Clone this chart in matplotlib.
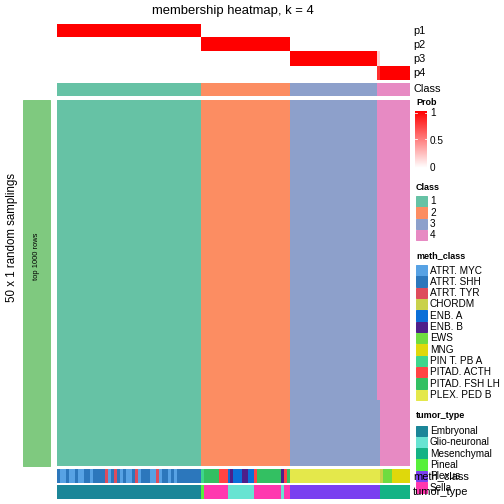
import numpy as np
import matplotlib
matplotlib.use('Agg')
import matplotlib.pyplot as plt
from matplotlib.colors import LinearSegmentedColormap, to_rgb
from matplotlib.patches import Rectangle

plt.rcParams['font.family'] = ['Liberation Sans', 'DejaVu Sans']

# ---- data ----
class_runs = [(1, 48), (2, 30), (3, 29), (4, 11)]
prob_runs = [([1, 0, 0, 0], 48), ([0, 1, 0, 0], 30), ([0, 0, 1, 0], 29),
             ([0, 0, 0.18, 0.82], 1), ([0, 0, 0, 1], 10)]
# class assignment over the 50 samplings, per column group
sampling_runs = [([(1, 50)], 48), ([(2, 50)], 30), ([(3, 50)], 29),
                 ([(4, 41), (3, 9)], 1), ([(4, 50)], 10)]
meth_runs = [
    ("ATRT. SHH", 1), ("ATRT. MYC", 2), ("ATRT. SHH", 1), ("ATRT. MYC", 2),
    ("ATRT. SHH", 1), ("ATRT. MYC", 2), ("ATRT. SHH", 2), ("ATRT. MYC", 1),
    ("ATRT. SHH", 4), ("ATRT. TYR", 1), ("ATRT. MYC", 1), ("ATRT. SHH", 1),
    ("ATRT. TYR", 1), ("ATRT. SHH", 1), ("ATRT. MYC", 1), ("ATRT. SHH", 1),
    ("ATRT. MYC", 2), ("ATRT. SHH", 1), ("ATRT. TYR", 1), ("ATRT. MYC", 1),
    ("ATRT. SHH", 3), ("ATRT. MYC", 2), ("ATRT. TYR", 1), ("ATRT. MYC", 1),
    ("ATRT. SHH", 2), ("ATRT. MYC", 1), ("ATRT. SHH", 1), ("ATRT. MYC", 1),
    ("ATRT. SHH", 8),
    ("PIN T. PB A", 1), ("PITAD. FSH LH", 5), ("PITAD. ACTH", 3), ("ENB. A", 1),
    ("ENB. B", 1), ("ENB. A", 3), ("ENB. B", 2), ("ENB. A", 2), ("PITAD. ACTH", 1),
    ("PITAD. FSH LH", 8), ("ENB. B", 1), ("PITAD. ACTH", 1), ("PITAD. FSH LH", 1),
    ("PLEX. PED B", 30), ("CHORDM", 1), ("EWS", 3), ("MNG", 6),
]
tumor_runs = [
    ("Embryonal", 48), ("Pineal", 1), ("Sella", 8), ("Glio-neuronal", 9),
    ("Sella", 9), ("Glio-neuronal", 1), ("Sella", 2), ("Plexus", 30),
    ("Mesenchymal", 10),
]

class_colors = {1: "#66C2A5", 2: "#FC8D62", 3: "#8DA0CB", 4: "#E78AC3"}
meth_colors = {
    "ATRT. MYC": "#57A2E4", "ATRT. SHH": "#2C77BC", "ATRT. TYR": "#DE4C5C",
    "CHORDM": "#C9D14B", "ENB. A": "#0B6FD8", "ENB. B": "#4E1F8A",
    "EWS": "#6FDC40", "MNG": "#DFD80B", "PIN T. PB A": "#3ED68C",
    "PITAD. ACTH": "#FF4444", "PITAD. FSH LH": "#33C062", "PLEX. PED B": "#E4E84B",
}
tumor_colors = {
    "Embryonal": "#1B8698", "Glio-neuronal": "#67E4D2", "Mesenchymal": "#14B385",
    "Pineal": "#57F03A", "Plexus": "#7A3FF0", "Sella": "#FF38AF",
}


def expand(runs):
    return [v for v, n in runs for _ in range(n)]


class_col = expand(class_runs)
prob = np.array(expand(prob_runs)).T
body = np.array([expand(r) for r in expand(sampling_runs)]).T
meth_col = expand(meth_runs)
tumor_col = expand(tumor_runs)

W = H = 504
fig = plt.figure(figsize=(7, 7), dpi=72)


def ax_px(x0, y0, x1, y1):
    ax = fig.add_axes([x0 / W, 1 - y1 / H, (x1 - x0) / W, (y1 - y0) / H])
    ax.set_axis_off()
    return ax


def rgb_img(rows, cmap):
    return np.array([[to_rgb(cmap[v]) for v in r] for r in rows])


prob_cmap = LinearSegmentedColormap.from_list("prob", ["#FFFFFF", "#FF0000"])
X0, X1 = 57, 410

ax = ax_px(X0, 24, X1, 80.5)
ax.imshow(prob, cmap=prob_cmap, vmin=0, vmax=1, aspect='auto', interpolation='nearest')

ax = ax_px(X0, 82.5, X1, 96)
ax.imshow(rgb_img([class_col], class_colors), aspect='auto', interpolation='nearest')

ax = ax_px(X0, 99.5, X1, 465.5)
ax.imshow(rgb_img(body, class_colors), aspect='auto', interpolation='nearest')

ax = ax_px(X0, 469, X1, 482.5)
ax.imshow(rgb_img([meth_col], meth_colors), aspect='auto', interpolation='nearest')

ax = ax_px(X0, 484.5, X1, 499)
ax.imshow(rgb_img([tumor_col], tumor_colors), aspect='auto', interpolation='nearest')

# left side bar
fig.patches.append(Rectangle((23 / W, 1 - 466 / H), 27 / W, 366.5 / H,
                             transform=fig.transFigure, color="#7FC97F"))
fig.text(37 / W, 1 - 256 / H, "top 1000 rows", rotation=90, fontsize=7.5,
         ha='center', va='center')
fig.text(12 / W, 1 - 238 / H, "50 x 1 random samplings", rotation=90, fontsize=11.5,
         ha='center', va='center')

fig.text(233 / W, 1 - 11 / H, "membership heatmap, k = 4", fontsize=13,
         ha='center', va='center')

# row labels
for lab, y in [("p1", 31), ("p2", 45), ("p3", 59), ("p4", 73), ("Class", 89),
               ("meth_class", 476), ("tumor_type", 492)]:
    fig.text(413 / W, 1 - y / H, lab, fontsize=11, ha='left', va='center')

# Prob colorbar
fig.text(416 / W, 1 - 103 / H, "Prob", fontsize=9, fontweight='bold', ha='left', va='center')
ax = ax_px(415, 111, 427, 168)
ax.imshow(np.linspace(1, 0, 100).reshape(-1, 1), cmap=prob_cmap, vmin=0, vmax=1,
          aspect='auto', extent=[0, 1, -0.04, 1.04])
ax.set_xlim(0, 1)
ax.set_ylim(-0.04, 1.04)
for v in [1, 0.5]:
    ax.plot([0, 0.2], [v, v], color='white', lw=0.8)
    ax.plot([0.8, 1], [v, v], color='white', lw=0.8)
for v, lab in [(1, "1"), (0.5, "0.5"), (0, "0")]:
    fig.text(430 / W, 1 - (168 - 55 * v) / H, lab, fontsize=10, ha='left', va='center')


def legend_block(title, ty, y0, labels, colors):
    fig.text(416 / W, 1 - ty / H, title, fontsize=9, fontweight='bold',
             ha='left', va='center')
    for i, lab in enumerate(labels):
        y = y0 + i * 11.33
        fig.patches.append(Rectangle((416 / W, 1 - (y + 10.5) / H), 10.5 / W, 10.5 / H,
                                     transform=fig.transFigure, color=colors[lab]))
        fig.text(430 / W, 1 - (y + 5.5) / H, str(lab), fontsize=10, ha='left', va='center')


legend_block("Class", 187, 196, [1, 2, 3, 4], class_colors)
legend_block("meth_class", 256, 265, list(meth_colors), meth_colors)
legend_block("tumor_type", 416, 425.5, list(tumor_colors), tumor_colors)

fig.savefig("out.png", dpi=72)
